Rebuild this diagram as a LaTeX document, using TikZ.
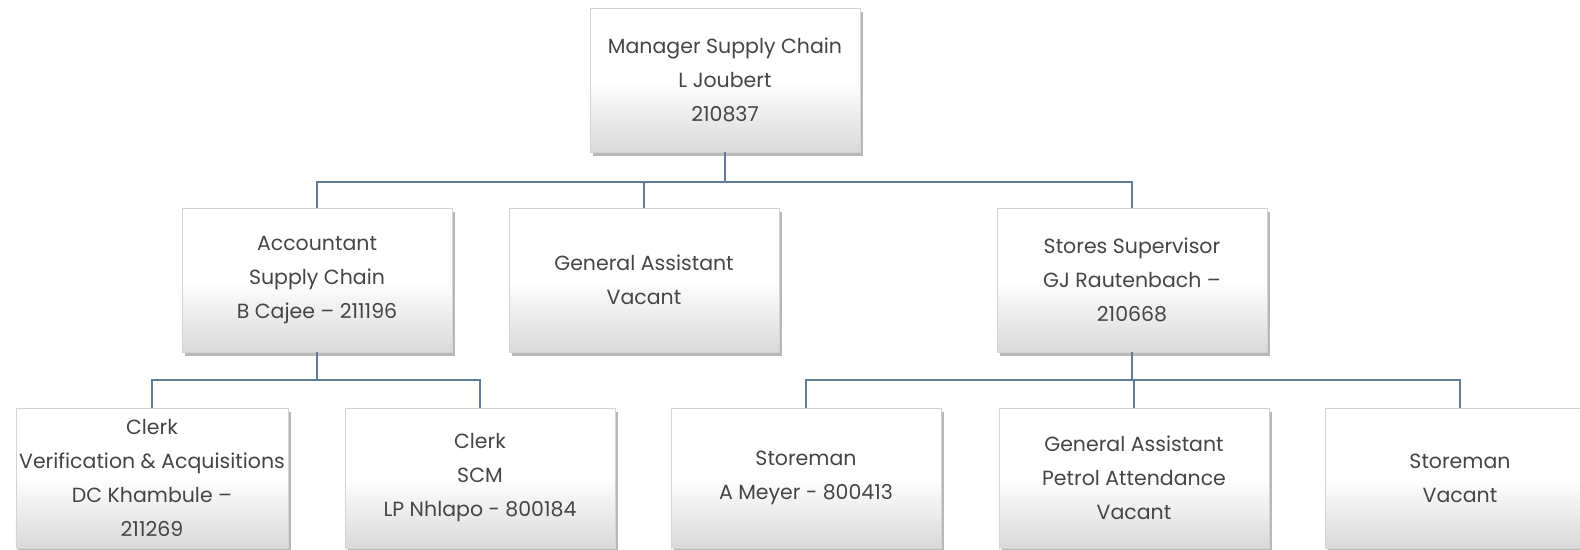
\documentclass[tikz,border=0pt]{standalone}
\usepackage{fontspec}
\setmainfont{Poppins}
\usepackage{xcolor}
\usepackage{tikz}
\usetikzlibrary{positioning, shadows}

\definecolor{linkblue}{HTML}{5F7C99}
\definecolor{textgrey}{HTML}{454545}
\definecolor{boxedge}{HTML}{D4D4D4}

\begin{document}
\begin{tikzpicture}[x=1pt, y=-1pt,
    post/.style={rectangle, draw=boxedge, line width=0.6pt,
      top color=white, bottom color=black!15, middle color=white,
      minimum width=270pt, minimum height=144pt, align=center,
      text=textgrey, font={\fontsize{20.5}{34}\selectfont},
      drop shadow={shadow xshift=2.5pt, shadow yshift=-3.5pt, fill=black!55}},
    link/.style={draw=linkblue, line width=1.4pt}]
  \clip (0,0) rectangle (1580,549);
  \fill[white] (0,0) rectangle (1580,549);

  % top of the chain
  \node[post] (mgr) at (725,80) {Manager Supply Chain\\L Joubert\\210837};

  % second row
  \node[post] (acct) at (317,280) {Accountant\\Supply Chain\\B Cajee -- 211196};
  \node[post] (genasst) at (644,280) {General Assistant\\Vacant};
  \node[post] (stores) at (1132,280) {Stores Supervisor\\GJ Rautenbach --\\210668};

  % third row
  \node[post, minimum height=140pt] (clerkva) at (152,478) {Clerk\\Verification \& Acquisitions\\DC Khambule --\\211269};
  \node[post, minimum height=140pt] (clerkscm) at (480,478) {Clerk\\SCM\\LP Nhlapo - 800184};
  \node[post, minimum height=140pt] (storeA) at (806,478) {Storeman\\A Meyer - 800413};
  \node[post, minimum height=140pt] (petrol) at (1134,478) {General Assistant\\Petrol Attendance\\Vacant};
  \node[post, minimum height=140pt] (storeV) at (1460,478) {Storeman\\Vacant};

  % bus lines
  \coordinate (busA) at (725,182);
  \coordinate (busB) at (317,380);
  \coordinate (busC) at (1132,380);

  \draw[link] (mgr.south) -- (busA);
  \draw[link] (acct.north) |- (busA);
  \draw[link] (genasst.north) |- (busA);
  \draw[link] (stores.north) |- (busA);

  \draw[link] (acct.south) -- (busB);
  \draw[link] (clerkva.north) |- (busB);
  \draw[link] (clerkscm.north) |- (busB);

  \draw[link] (stores.south) -- (busC);
  \draw[link] (storeA.north) |- (busC);
  \draw[link] (petrol.north) -- (petrol.north |- busC);
  \draw[link] (storeV.north) |- (busC);
\end{tikzpicture}
\end{document}
